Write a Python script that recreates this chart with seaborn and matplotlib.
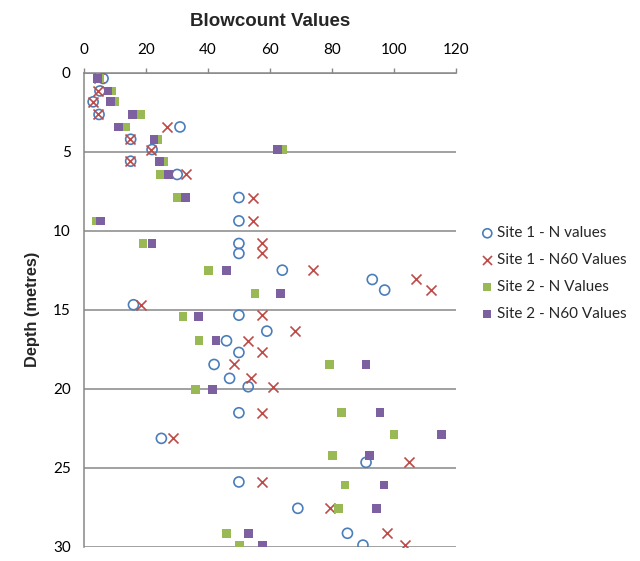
import matplotlib
matplotlib.use("Agg")
import matplotlib.pyplot as plt
import seaborn as sns
import pandas as pd

# ---- data ----
s1_depth = [0.35, 1.14, 1.83, 2.63, 3.42, 4.2, 4.85, 5.59, 6.43, 7.89, 9.37, 10.8, 11.43,
            12.49, 13.08, 13.75, 14.68, 15.34, 16.35, 16.96, 17.7, 18.46, 19.34, 19.87,
            21.52, 23.14, 24.66, 25.9, 27.57, 29.15, 29.9]
s1_n = [6.2, 5.2, 3.0, 4.9, 31, 15.1, 22, 15.1, 30.1, 50, 50, 50, 50,
        64, 93, 97, 16, 50, 59, 46, 50, 42, 47, 53,
        50, 25, 91, 50, 69, 85, 90]
s1_n60 = [5.0, 4.6, 2.8, 4.6, 26.9, 14.8, 21.5, 14.8, 32.9, 54.6, 54.6, 57.6, 57.6,
          73.8, 107, 111.8, 18.4, 57.6, 68, 53, 57.6, 48.4, 54, 61,
          57.6, 28.8, 104.8, 57.6, 79.4, 97.8, 103.5]

s2_depth = [0.35, 1.14, 1.83, 2.63, 3.42, 4.2, 4.85, 5.59, 6.43, 7.89, 9.37, 10.8,
            12.49, 13.96, 15.4, 16.96, 18.46, 20.04, 21.52, 22.89, 24.24, 26.1,
            27.57, 29.15, 29.9]
s2_n = [5.2, 9.1, 10, 18.3, 13.5, 23.7, 64, 25.6, 24.7, 30.1, 4.1, 19.1,
        40.1, 55.2, 32, 37.1, 79.1, 36, 83.1, 100, 80.1, 84.2,
        82, 46, 50.1]
s2_n60 = [4.4, 7.8, 8.7, 15.7, 11.3, 22.6, 62.4, 24.5, 27.4, 32.9, 5.4, 22,
          46.1, 63.3, 36.9, 42.6, 91, 41.5, 95.5, 115.2, 92, 96.8,
          94.4, 53, 57.6]

labels = ["Site 1 - N values", "Site 1 - N60 Values", "Site 2 - N Values", "Site 2 - N60 Values"]
x_ticks = [0, 20, 40, 60, 80, 100, 120]
y_ticks = [0, 5, 10, 15, 20, 25, 30]

sns.set_style("white")
plt.rcParams['font.family'] = ['Liberation Sans', 'DejaVu Sans']

fig = plt.figure(figsize=(6.4, 5.61), dpi=100)
ax = fig.add_axes([0.131, 0.0255, 0.5815, 0.8445])

blue = "#4A7EBB"
red = "#BE4B48"
green = "#98B954"
purple = "#7D60A0"

sns.scatterplot(x=s1_n, y=s1_depth, ax=ax, marker="o", s=52, facecolor="none",
                edgecolor=blue, linewidth=1.2, label=labels[0], zorder=3)
sns.scatterplot(x=s1_n60, y=s1_depth, ax=ax, marker="x", s=52, color=red,
                linewidth=1.2, label=labels[1], zorder=3)
sns.scatterplot(x=s2_n, y=s2_depth, ax=ax, marker="s", s=40, color=green,
                edgecolor="none", linewidth=0, label=labels[2], zorder=3)
sns.scatterplot(x=s2_n60, y=s2_depth, ax=ax, marker="s", s=40, color=purple,
                edgecolor="none", linewidth=0, label=labels[3], zorder=3)

ax.set_xlim(0, 120)
ax.set_ylim(30, 0)
ax.set_xticks(x_ticks)
ax.set_yticks(y_ticks)
ax.xaxis.tick_top()
ax.tick_params(axis="both", labelsize=11, colors="#000000", length=3.5, width=1,
               direction="out", color="#878787")
ax.tick_params(axis="x", pad=8)
ax.tick_params(axis="y", pad=6)
for lab in ax.get_xticklabels() + ax.get_yticklabels():
    lab.set_family(["Lato", "DejaVu Sans"])

ax.yaxis.grid(True, color="#878787", linewidth=1.1)
ax.xaxis.grid(False)
for side in ["right", "bottom"]:
    ax.spines[side].set_visible(False)
for side in ["left", "top"]:
    ax.spines[side].set_color("#878787")
    ax.spines[side].set_linewidth(1.1)

ax.set_xlabel("")
ax.set_ylabel("Depth (metres)", fontsize=11.8, fontweight="bold", labelpad=9)
ax.set_title("Blowcount Values", fontsize=13.5, fontweight="bold", pad=34)

leg = ax.get_legend()
handles, labs = ax.get_legend_handles_labels()
leg.remove()
fig.legend(handles, labs, loc="center left", bbox_to_anchor=(0.728, 0.512),
           frameon=False, prop={"family": ["Lato", "DejaVu Sans"], "size": 11},
           handletextpad=0.15, labelspacing=0.85, handlelength=1.0, markerscale=0.9)

fig.savefig("out.png", dpi=100)
